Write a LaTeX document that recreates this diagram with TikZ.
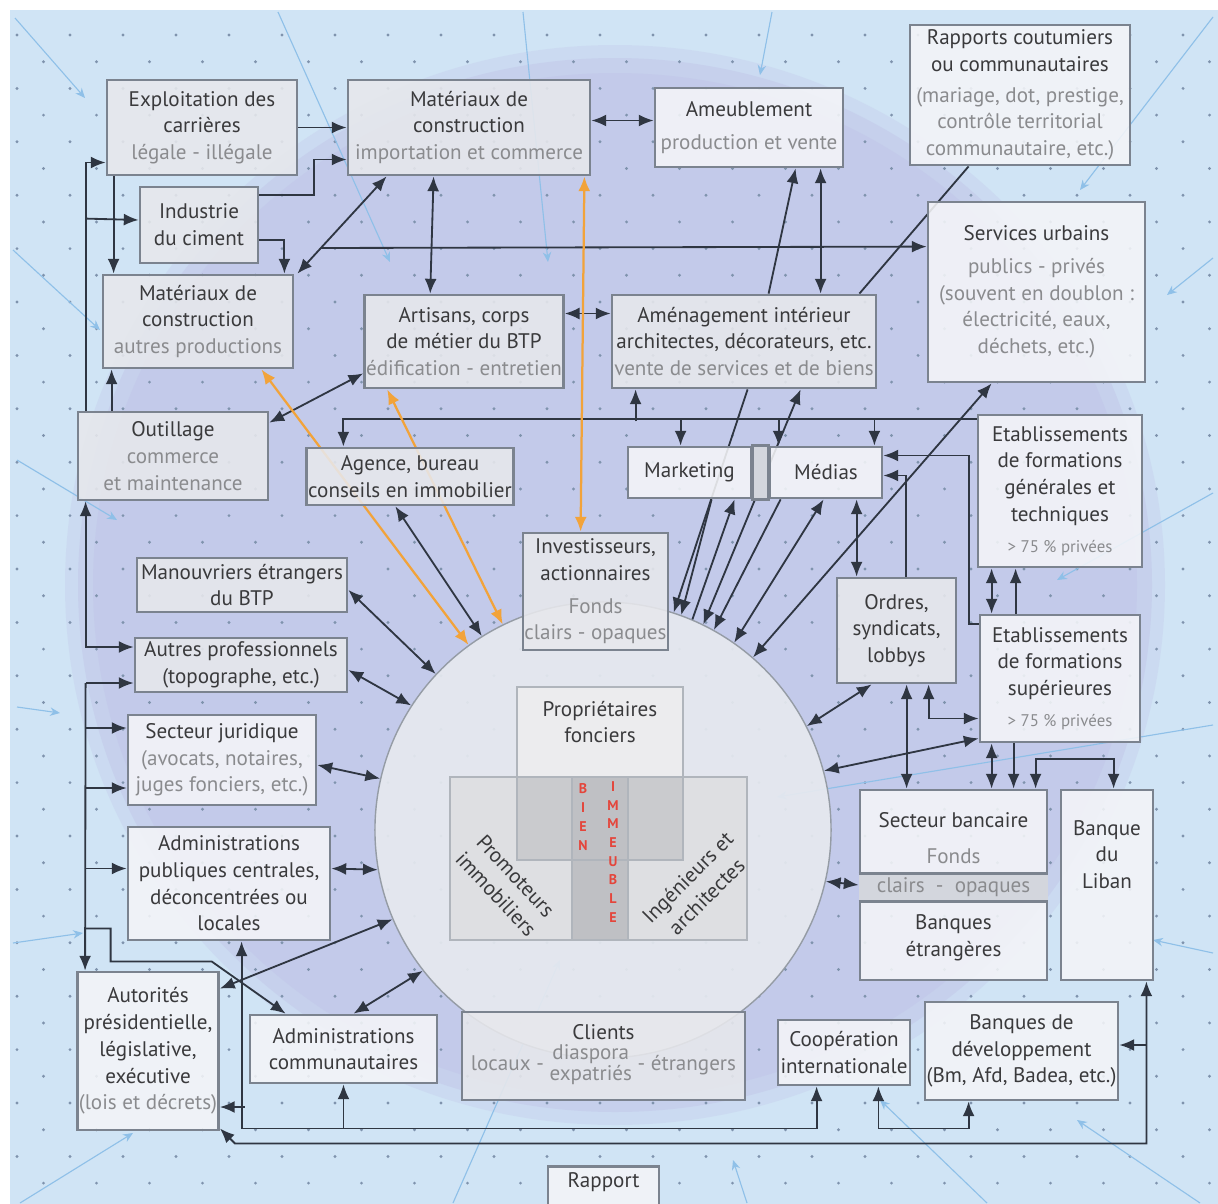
\documentclass[tikz,border=0pt]{standalone}
\usepackage{fontspec}
\setmainfont{PT Sans}
\usepackage{xcolor}
\usepackage{tikz}
\usetikzlibrary{calc,arrows.meta}

\definecolor{fondbleu}{HTML}{D0E4F5}
\definecolor{lavande}{HTML}{C3CAEA}
\definecolor{cerclefond}{HTML}{E6E9EF}
\definecolor{bord}{HTML}{7B838F}
\definecolor{boitegris}{HTML}{E7E8EC}
\definecolor{boiteblanc}{HTML}{F4F5F8}
\definecolor{bandeau}{HTML}{D3D6DD}
\definecolor{titre}{HTML}{3A3A3C}
\definecolor{sous}{HTML}{8A8B8E}
\definecolor{trait}{HTML}{2F3642}
\definecolor{orangeflux}{HTML}{F2A33A}
\definecolor{rayonbleu}{HTML}{8FC0E8}
\definecolor{point}{HTML}{7F93AD}
\definecolor{rouge}{HTML}{E4453B}
\definecolor{gris0}{HTML}{ECECEE}
\definecolor{gris1}{HTML}{DEDFE2}
\definecolor{gris2}{HTML}{CACBCE}
\definecolor{gris3}{HTML}{BFC0C4}

\newcommand{\soustitre}[1]{{\color{sous}#1}}

\pgfdeclarelayer{arriere}
\pgfdeclarelayer{fond}
\pgfsetlayers{arriere,fond,main}

\begin{document}
\begin{tikzpicture}[x=0.025cm, y=-0.025cm,
    boite/.style={draw=bord, line width=2pt, fill=boitegris, fill opacity=0.88, text opacity=1,
        text=titre, align=center, inner sep=1pt, font=\fontsize{15}{19}\selectfont},
    blanche/.style={boite, fill=boiteblanc},
    dim/.style 2 args={minimum width=#1*0.025cm, minimum height=#2*0.025cm},
    texte/.style={text=titre, align=center, inner sep=0pt, font=\fontsize{15}{19}\selectfont},
    lettres/.style={text=rouge, align=center, inner sep=0pt, font=\fontsize{10}{13.3}\selectfont\bfseries},
    fl/.style={draw=trait, line width=1.3pt, -{Latex[length=10.5pt,width=8.5pt]}},
    dfl/.style={draw=trait, line width=1.3pt, {Latex[length=10.5pt,width=8.5pt]}-{Latex[length=10.5pt,width=8.5pt]}},
    ligne/.style={draw=trait, line width=1.3pt},
    orfl/.style={draw=orangeflux, line width=1.6pt, {Latex[length=10.5pt,width=8.5pt]}-{Latex[length=10.5pt,width=8.5pt]}},
    rayon/.style={draw=rayonbleu, line width=0.8pt, -{Stealth[length=7pt,width=6pt]}}]
\useasboundingbox (0,0) rectangle (1218,1204);

\begin{pgfonlayer}{arriere}
    \fill[fondbleu] (10,10) rectangle (1218,1204);
    \fill[lavande, opacity=0.35] (615,585) ellipse [x radius=550, y radius=540];
    \fill[lavande, opacity=0.6] (615,585) ellipse [x radius=537, y radius=527];
    \fill[lavande] (615,585) ellipse [x radius=522, y radius=512];
    \foreach \j in {0,...,43}{
        \foreach \i in {0,...,22}{
            \fill[point] ({17+53*\i+26.5*mod(\j,2)},{35+26.7*\j}) circle[radius=1.6];
        }
    }
    \draw[rayon] (15,18) -- (85,98);
    \draw[rayon] (278,12) -- (390,262);
    \draw[rayon] (523,12) -- (548,262);
    \draw[rayon] (772,12) -- (760,75);
    \draw[rayon] (1213,17) -- (1080,190);
    \draw[rayon] (1213,258) -- (1167,295);
    \draw[rayon] (1213,493) -- (1057,580);
    \draw[rayon] (1213,725) -- (777,797);
    \draw[rayon] (1213,953) -- (1153,940);
    \draw[rayon] (1200,1203) -- (1077,1120);
    \draw[rayon] (987,1203) -- (880,1100);
    \draw[rayon] (747,1203) -- (733,1160);
    \draw[rayon] (453,1203) -- (560,960);
    \draw[rayon] (20,1203) -- (133,1133);
    \draw[rayon] (13,943) -- (83,933);
    \draw[rayon] (17,707) -- (60,713);
    \draw[rayon] (17,460) -- (117,520);
    \draw[rayon] (13,250) -- (100,330);

    \node[circle, draw=bord!80, line width=1pt, fill=cerclefond, fill opacity=0.92, minimum size=11.4cm, inner sep=0pt] (cercle) at (603,830) {};
    \fill[gris1] (450,777) rectangle (747,940);
    \fill[gris0] (517,687) rectangle (683,777);
    \fill[gris2] (517,777) rectangle (683,860);
    \fill[gris3] (572,777) rectangle (628,940);
    \draw[bord!60, line width=0.8pt] (517,687) rectangle (683,860);
    \draw[bord!60, line width=0.8pt] (450,777) rectangle (628,940);
    \draw[bord!60, line width=0.8pt] (572,777) rectangle (747,940);
\end{pgfonlayer}

\node[texte] (proprio) at (600,722) {Propriétaires\\fonciers};
\node[texte, rotate=-47] (promot) at (506,885) {Promoteurs\\immobiliers};
\node[texte, rotate=45] (ingen) at (697,887) {Ingénieurs et\\architectes};
\node[lettres] (bien) at (583,817) {B\\I\\E\\N};
\node[lettres] (immeuble) at (613,852) {I\\M\\M\\E\\U\\B\\L\\E};

\node[boite, dim={190}{95}] (exploit) at (202,127.5) {Exploitation des\\carrières\\\soustitre{légale - illégale}};
\node[boite, dim={242}{95}] (matimport) at (469,127.5) {Matériaux de\\construction\\\soustitre{importation et commerce}};
\node[blanche, dim={188}{79}] (ameub) at (749,127.5) {Ameublement\\[4pt]\soustitre{production et vente}};
\node[blanche, dim={220}{140}] (rapports) at (1020,95) {Rapports coutumiers\\ou communautaires\\[3pt]\soustitre{(mariage, dot, prestige,}\\\soustitre{contrôle territorial}\\\soustitre{communautaire, etc.)}};
\node[boite, dim={118}{76}] (ciment) at (199,225) {Industrie\\du ciment};
\node[blanche, dim={217}{180}] (services) at (1036.5,292) {Services urbains\\[4pt]\soustitre{publics - privés}\\\soustitre{(souvent en doublon :}\\\soustitre{électricité, eaux,}\\\soustitre{déchets, etc.)}};
\node[boite, dim={190}{93}] (matautres) at (198,321.5) {Matériaux de\\construction\\\soustitre{autres productions}};
\node[boite, dim={192}{93}] (artisans) at (464,341.5) {Artisans, corps\\de métier du BTP\\\soustitre{édification - entretien}};
\node[boite, dim={264}{93}] (amenag) at (744,341.5) {Aménagement intérieur\\architectes, décorateurs, etc.\\\soustitre{vente de services et de biens}};
\node[boite, dim={190}{88}] (outillage) at (173,456) {Outillage\\\soustitre{commerce}\\\soustitre{et maintenance}};
\node[boite, dim={190}{57}] (agence) at (410,476.5) {Agence, bureau\\conseils en immobilier};
\node[blanche, dim={123}{51}] (marketing) at (689.5,472.5) {Marketing};
\node[blanche, dim={112}{51}] (medias) at (826,472.5) {Médias};
\draw[draw=bord, line width=2pt, fill=bandeau] (marketing.north east) rectangle (medias.south west);
\node[blanche, dim={164}{152}] (formgen) at (1060,491) {Etablissements\\de formations\\générales et\\techniques\\[3pt]\soustitre{\fontsize{12}{14}\selectfont > 75~\% privées}};
\node[boite, dim={143}{117}] (invest) at (595.5,591.5) {Investisseurs,\\actionnaires\\[4pt]\soustitre{Fonds}\\\soustitre{clairs - opaques}};
\node[boite, dim={210}{54}] (manouv) at (242,585) {Manouvriers étrangers\\du BTP};
\node[boite, dim={119}{105}] (ordres) at (896.5,630.5) {Ordres,\\syndicats,\\lobbys};
\node[blanche, dim={160}{127}] (formsup) at (1060,678.5) {Etablissements\\de formations\\supérieures\\[3pt]\soustitre{\fontsize{12}{14}\selectfont > 75~\% privées}};
\node[boite, dim={212}{54}] (autres) at (241,665) {Autres professionnels\\(topographe, etc.)};
\node[blanche, dim={188}{90}] (juridique) at (222,760) {Secteur juridique\\\soustitre{(avocats, notaires,}\\\soustitre{juges fonciers, etc.)}};
\node[blanche, dim={202}{113}] (adminpub) at (229,883.5) {Administrations\\publiques centrales,\\déconcentrées ou\\locales};
\node[blanche, dim={187}{190}] (bancaire) at (953.5,885) {};
\fill[bandeau] ($(bancaire.north west)+(0,85)$) rectangle ($(bancaire.north east)+(0,113)$);
\draw[bord, line width=2pt] ($(bancaire.north west)+(0,85)$) -- ($(bancaire.north east)+(0,85)$)
    ($(bancaire.north west)+(0,113)$) -- ($(bancaire.north east)+(0,113)$);
\node[texte] (bq-titre) at ($(bancaire.north)+(0,32)$) {Secteur bancaire};
\node[texte, text=sous] (bq-fonds) at ($(bancaire.north)+(0,68)$) {Fonds};
\node[texte, text=sous] (bq-clairs) at ($(bancaire.north)+(0,99)$) {clairs \ - \ opaques};
\node[texte] (bq-etr) at ($(bancaire.north)+(0,149)$) {Banques\\étrangères};
\node[blanche, dim={92}{190}] (liban) at (1107,885) {};
\node[texte] (liban-txt) at ($(liban.north)+(0,66)$) {Banque\\du\\Liban};
\node[blanche, dim={140}{158}] (autorites) at (148,1051) {Autorités\\présidentielle,\\législative,\\exécutive\\\soustitre{(lois et décrets)}};
\node[blanche, dim={187}{68}] (admincom) at (343.5,1049) {Administrations\\communautaires};
\node[boite, dim={283}{88}] (clients) at (603.5,1056) {Clients\\[2pt]\soustitre{locaux - {\renewcommand{\arraystretch}{0.8}\begin{tabular}{@{}c@{}}diaspora\\expatriés\end{tabular}} - étrangers}};
\node[blanche, dim={132}{65}] (coop) at (844,1052.5) {Coopération\\internationale};
\node[blanche, dim={193}{98}] (bqdev) at (1021.5,1051) {Banques de\\développement\\(Bm, Afd, Badea, etc.)};
\node[blanche, dim={111}{80}, anchor=north] (rapport) at (603.5,1165) {Rapport\\~\\~};
\coordinate (depart) at (321,248);

\begin{pgfonlayer}{fond}
    \draw[fl] (exploit.east) -- (matimport.west);
    \draw[fl] ($(ciment.north east)+(0,9)$) -- ++(55,0) |- ($(matimport.west)+(0,32)$);
    \draw[fl] ($(ciment.east)+(0,15)$) -| ($(matautres.north east)+(-10,0)$);
    \draw[fl] ($(exploit.south west)+(8,0)$) -- ($(matautres.north west)+(12,0)$);
    \draw[fl] ($(outillage.north west)+(9,0)$) |- ($(exploit.west)+(0,35)$);
    \draw[fl] ($(outillage.north west)+(9,-192)$) -- ($(ciment.west)+(0,-5)$);
    \draw[fl] ($(outillage.north west)+(35,0)$) -- ($(matautres.south west)+(10,0)$);
    \draw[dfl] ($(outillage.south west)+(9,0)$) |- ($(autres.west)+(0,-18)$);
    \draw[dfl] ($(matimport.south west)+(40,0)$) -- ($(matautres.north east)+(3,0)$);
    \draw[dfl] ($(matimport.south west)+(87,0)$) -- ($(artisans.north west)+(67,0)$);
    \draw[dfl] ($(matimport.east)+(0,-7)$) -- ($(ameub.west)+(0,-7)$);
    \draw[dfl] ($(artisans.east)+(0,-28)$) -- ($(amenag.west)+(0,-28)$);
    \draw[dfl] ($(ameub.south west)+(167,0)$) -- ($(amenag.north west)+(210,0)$);
    \draw[fl] ($(amenag.north west)+(158,0)$) -- ($(ameub.south west)+(142,0)$);
    \draw[fl] (depart) -- ($(services.north west)+(0,46)$);
    \draw[ligne] ($(amenag.north east)+(-18,0)$) -- ($(rapports.south west)+(60,0)$);
    \draw[dfl] ($(outillage.north east)+(0,12)$) -- ($(artisans.south west)+(0,-16)$);

    \draw[fl] ($(formgen.north west)+(0,5)$) -| ($(agence.north west)+(38,0)$);
    \draw[fl] ($(marketing.north west)+(54,-27)$) -- ($(marketing.north west)+(54,0)$);
    \draw[fl] ($(medias.north west)+(10,-27)$) -- ($(medias.north west)+(10,0)$);
    \draw[fl] ($(medias.north east)+(-9,-27)$) -- ($(medias.north east)+(-9,0)$);
    \draw[fl] ($(amenag.south west)+(25,32)$) -- ($(amenag.south west)+(25,0)$);

    \draw[fl] ($(formsup.north west)+(0,10)$) -- ++(-10,0) |- ($(medias.east)+(0,-17)$);
    \draw[fl] ($(ordres.north west)+(70,0)$) |- ($(medias.east)+(0,3)$);
    \draw[dfl] ($(medias.south west)+(88,0)$) -- ($(ordres.north west)+(21,0)$);
    \draw[dfl] ($(formgen.south west)+(15,0)$) -- ($(formsup.north west)+(13,0)$);
    \draw[fl] ($(formsup.north west)+(37,0)$) -- ($(formgen.south west)+(39,0)$);
    \draw[dfl] ($(ordres.south west)+(71,0)$) -- ($(bancaire.north west)+(48,0)$);
    \draw[dfl] ($(ordres.south west)+(93,0)$) |- ($(formsup.west)+(0,40)$);
    \draw[dfl] ($(formsup.south west)+(13,0)$) -- ($(bancaire.north west)+(133,0)$);
    \draw[fl] ($(formsup.south west)+(35,0)$) -- ($(bancaire.north west)+(155,0)$);
    \draw[dfl] ($(bancaire.north west)+(177,0)$) -- ++(0,-30) -| ($(liban.north west)+(54,0)$);

    \draw[dfl] ($(liban.south east)+(-8,0)$) |- ($(autorites.south east)+(15,12)$) -- ($(autorites.south east)+(0,-3)$);
    \draw[fl] ($(bqdev.east)+(27,-6)$) -- ($(bqdev.east)+(0,-6)$);
    \draw[dfl] ($(adminpub.south west)+(115,0)$) |- ($(coop.south west)+(40,42)$) -- ($(coop.south west)+(40,0)$);
    \draw[fl] ($(admincom.south)+(0,44)$) -- (admincom.south);
    \draw[fl] ($(autorites.east)+(25,56)$) -- ($(autorites.east)+(0,56)$);
    \draw[dfl] ($(coop.south east)+(-33,0)$) -- ++(0,42) -| ($(bqdev.south west)+(45,0)$);

    \draw[fl] ($(autres.west)+(-48,18)$) -- ($(autorites.north west)+(9,0)$);
    \draw[fl] ($(autres.west)+(-48,18)$) -- ($(autres.west)+(0,18)$);
    \draw[fl] ($(juridique.west)+(-41,-32)$) -- ($(juridique.west)+(0,-32)$);
    \draw[fl] ($(juridique.west)+(-41,28)$) -- ($(juridique.west)+(0,28)$);
    \draw[fl] ($(adminpub.west)+(-41,-15)$) -- ($(adminpub.west)+(0,-15)$);
    \draw[fl] ($(adminpub.south west)+(-41,-13)$) -- ++(25,0) -- ++(0,33) -- ++(101,0) -- ($(admincom.north west)+(37,0)$);

    \draw[dfl] ($(adminpub.east)+(0,-15)$) -- (cercle.190);
    \draw[dfl] ($(autorites.north east)+(0,18)$) -- (cercle.203);
    \draw[dfl] ($(admincom.north west)+(105,0)$) -- (cercle.218);
    \draw[dfl] ($(juridique.east)+(0,5)$) -- (cercle.167);
    \draw[dfl] ($(autres.east)+(0,5)$) -- (cercle.147);
    \draw[dfl] ($(manouv.east)+(0,5)$) -- (cercle.137);
    \draw[dfl] ($(agence.south west)+(90,0)$) -- (cercle.122);
    \draw[orfl] ($(matautres.south east)+(-33,0)$) -- (cercle.126);
    \draw[orfl] ($(artisans.south west)+(24,0)$) -- (cercle.116);
    \draw[orfl] ($(matimport.south east)+(-7,0)$) -- ($(invest.north west)+(59,0)$);

    \draw[fl] ($(amenag.south west)+(137,0)$) -- (cercle.72);
    \draw[dfl] ($(amenag.south west)+(190,0)$) -- (cercle.64);
    \draw[fl] ($(marketing.south west)+(85,0)$) -- (cercle.70);
    \draw[fl] (cercle.67) -- ($(marketing.south west)+(108,0)$);
    \draw[fl] ($(medias.south west)+(12,0)$) -- (cercle.61);
    \draw[dfl] ($(medias.south west)+(55,0)$) -- (cercle.55);
    \draw[dfl] ($(services.south west)+(65,0)$) -- (cercle.49);
    \draw[dfl] ($(ordres.south west)+(36,0)$) -- (cercle.27);
    \draw[dfl] ($(formsup.south west)+(0,-5)$) -- (cercle.15);
    \draw[dfl] (bancaire.west) -- (cercle.-13);
\end{pgfonlayer}
\end{tikzpicture}
\end{document}
